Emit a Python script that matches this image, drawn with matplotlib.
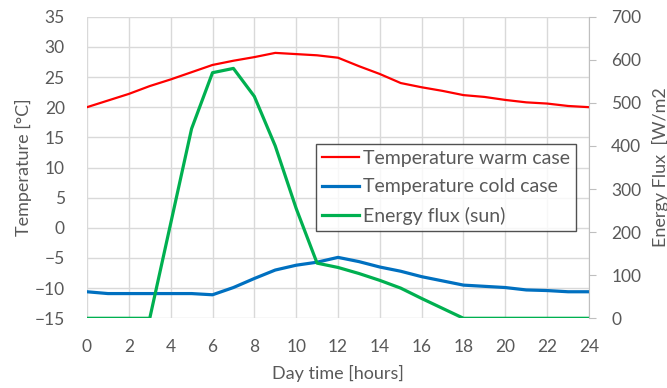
import numpy as np
import matplotlib
matplotlib.use("Agg")
import matplotlib.pyplot as plt

plt.rcParams['font.family'] = ['Lato', 'DejaVu Sans']

# hourly values over one day
hours = list(range(25))
temp_warm = [20, 21.1, 22.2, 23.5, 24.6, 25.8, 27, 27.7, 28.3, 29, 28.8, 28.6, 28.2,
             26.8, 25.5, 24, 23.3, 22.7, 22, 21.7, 21.2, 20.8, 20.6, 20.2, 20]
temp_cold = [-10.6, -10.9, -10.9, -10.9, -10.9, -10.9, -11.1, -9.9, -8.4, -7.0, -6.2, -5.7, -4.9,
             -5.6, -6.5, -7.2, -8.1, -8.8, -9.5, -9.7, -9.9, -10.3, -10.4, -10.6, -10.6]
energy_flux = [0, 0, 0, 0, 220, 440, 570, 580, 515, 400, 255, 128, 118,
               104, 88, 70, 46, 23, 0, 0, 0, 0, 0, 0, 0]

x_ticks = list(range(0, 25, 2))
temp_ticks = list(range(-15, 36, 5))
flux_ticks = list(range(0, 701, 100))

text_col = '#595959'
grid_col = '#d9d9d9'
tick_fs = 12.5
label_fs = 13

fig = plt.figure(figsize=(6.67, 3.88), dpi=100)
fig.subplots_adjust(left=87/667, right=589/667, top=1-16.7/388, bottom=1-318.3/388)
ax = fig.add_subplot(111)
ax2 = ax.twinx()

l1, = ax.plot(hours, temp_warm, color='#ff0000', lw=1.6, label='Temperature warm case')
l2, = ax.plot(hours, temp_cold, color='#0070c0', lw=2.3, label='Temperature cold case')
l3, = ax2.plot(hours, energy_flux, color='#00b050', lw=2.3, label='Energy flux (sun)')

ax.set_xlim(0, 24)
ax.set_ylim(-15, 35)
ax2.set_ylim(0, 700)
ax.set_xticks(x_ticks)
ax.set_yticks(temp_ticks)
ax2.set_yticks(flux_ticks)

ax.grid(True, color=grid_col, lw=1.0)
ax.set_axisbelow(True)
for s in ['top', 'left', 'bottom', 'right']:
    ax.spines[s].set_visible(False)
for s in ['top', 'left', 'bottom']:
    ax2.spines[s].set_visible(False)
ax2.spines['right'].set_color('#bfbfbf')
ax2.spines['right'].set_linewidth(0.8)

ax.tick_params(axis='both', length=0, labelsize=tick_fs, labelcolor=text_col)
ax.tick_params(axis='x', pad=15)
ax.tick_params(axis='y', pad=16)
ax2.tick_params(axis='y', length=5, width=0.8, color='#bfbfbf', pad=11,
                labelsize=tick_fs, labelcolor=text_col)

ax.set_xlabel('Day time [hours]', fontsize=label_fs, color=text_col, labelpad=7)
ax.set_ylabel('Temperature [°C]', fontsize=label_fs, color=text_col, labelpad=2)
ax2.set_ylabel('Energy Flux  [W/m2', fontsize=label_fs, color=text_col, labelpad=8)

leg = ax2.legend(handles=[l1, l2, l3], loc='upper left', bbox_to_anchor=(0.457, 0.578),
                 frameon=True, fancybox=False, edgecolor='#262626', fontsize=14,
                 handlelength=1.9, handletextpad=0.2, borderpad=0.3, labelspacing=0.6,
                 borderaxespad=0)
leg.get_frame().set_linewidth(1.0)
for t in leg.get_texts():
    t.set_color(text_col)

fig.savefig('out.png', dpi=100)
